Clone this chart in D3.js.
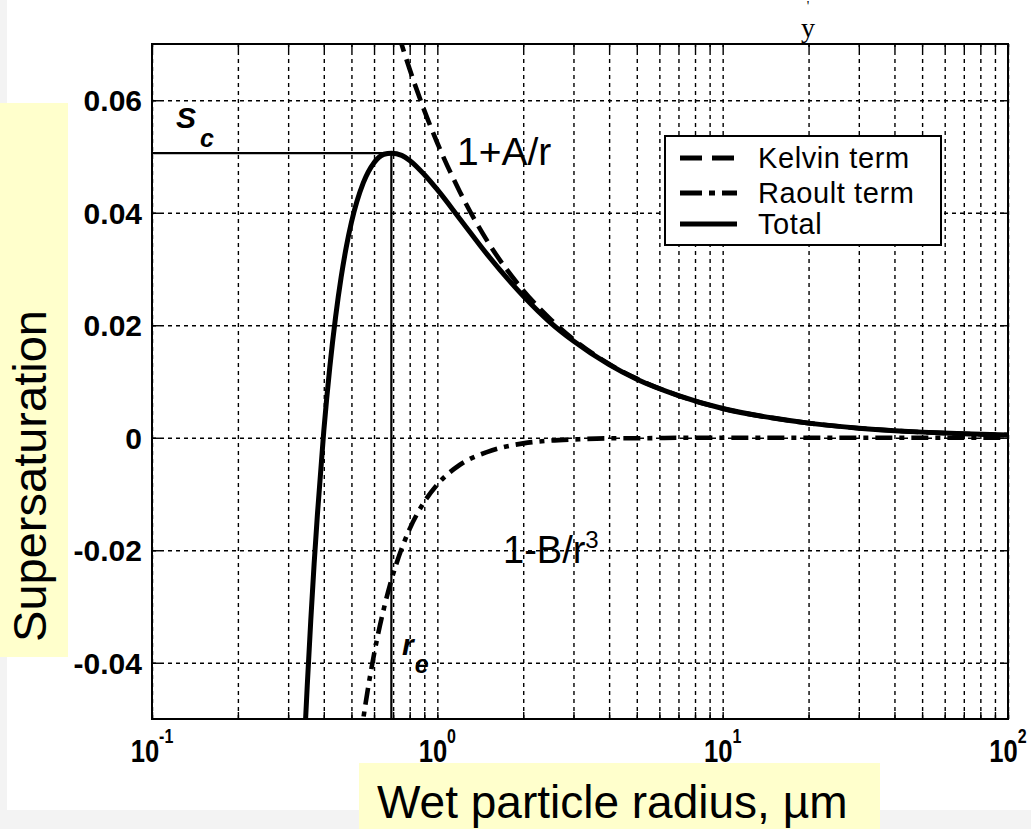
<!DOCTYPE html>
<html><head><meta charset="utf-8">
<script src="https://cdn.jsdelivr.net/npm/d3@7"></script>
<style>html,body{margin:0;padding:0;background:#fff;overflow:hidden;} svg{display:block;}</style>
</head><body>
<script>
// ---- data ----
const radius = [0.345,0.35,0.36,0.37,0.38,0.4,0.42,0.44,0.46,0.48,0.5,0.55,0.6,0.65,0.69,0.75,0.8,0.9,1.0,1.2,1.5,2,2.5,3,4,5,7,10,15,20,30,50,70,100];
const total  = [-0.0505,-0.0441,-0.0326,-0.0224,-0.0136,0.0012,0.0126,0.0215,0.0285,0.0340,0.0383,0.0453,0.0489,0.0504,0.0506,0.0502,0.0493,0.0468,0.0441,0.0389,0.0325,0.0252,0.0204,0.0172,0.0130,0.0104,0.0075,0.0052,0.0035,0.0026,0.0017,0.0010,0.0007,0.0005];
const kelvin = [null,null,null,null,null,null,null,null,null,null,null,null,null,0.0806,0.0759,0.0699,0.0655,0.0582,0.0524,0.0437,0.0349,0.0262,0.0210,0.0175,0.0131,0.0105,0.0075,0.0052,0.0035,0.0026,0.0017,0.0010,0.0007,0.0005];
const raoult = [null,null,null,null,null,null,null,null,null,null,-0.0665,-0.0500,-0.0385,-0.0303,-0.0253,-0.0197,-0.0162,-0.0114,-0.0083,-0.0048,-0.0025,-0.0010,-0.0005,-0.0003,-0.0001,-0.0001,0,0,0,0,0,0,0,0];
const criticalRadius = 0.69;
const criticalSupersaturation = 0.0506;
const yTicks = [-0.04,-0.02,0,0.02,0.04,0.06];
const yTickLabels = ["-0.04","-0.02","0","0.02","0.04","0.06"];
const xDecades = [0.1,1,10,100];
const xTickExponents = ["-1","0","1","2"];
const legendLabels = ["Kelvin term","Raoult term","Total"];
const yAxisTitle = "Supersaturation";
const xAxisTitle = "Wet particle radius, \u00b5m";

// ---- layout ----
const W = 1031, H = 829;
const L = 152, R = 1008, T = 44, B = 719;
const svg = d3.select("body").append("svg").attr("width", W).attr("height", H)
  .style("font-family", "'Liberation Sans', Arial, sans-serif");

// background strips
svg.append("rect").attr("x",0).attr("y",0).attr("width",W).attr("height",H).attr("fill","#fff");
svg.append("rect").attr("x",0).attr("y",0).attr("width",7).attr("height",H).attr("fill","#f3f3f3");
svg.append("rect").attr("x",0).attr("y",810).attr("width",W).attr("height",H-810).attr("fill","#f3f3f3");

const x = d3.scaleLog().domain([0.1, 100]).range([L, R]);
const y = d3.scaleLinear().domain([-0.05, 0.07]).range([B, T]);

const minor = [];
[0.1, 1, 10].forEach(d => { for (let k = 1; k <= 9; k++) minor.push(+(d*k).toPrecision(3)); });
minor.push(100);

// grid
const gx = svg.append("g").attr("transform", `translate(0,${B})`)
  .call(d3.axisBottom(x).tickValues(minor).tickSize(-(B-T)).tickFormat(""));
gx.select(".domain").remove();
gx.selectAll("line").attr("stroke","#000").attr("stroke-width",1.4).attr("stroke-dasharray","4,4");
const gy = svg.append("g").attr("transform", `translate(${L},0)`)
  .call(d3.axisLeft(y).tickValues(yTicks).tickSize(-(R-L)).tickFormat(""));
gy.select(".domain").remove();
gy.selectAll("line").attr("stroke","#000").attr("stroke-width",1.4).attr("stroke-dasharray","4,4");

// curves
svg.append("clipPath").attr("id","plotclip").append("rect")
  .attr("x",L).attr("y",T).attr("width",R-L).attr("height",B-T);
const plot = svg.append("g").attr("clip-path","url(#plotclip)");
const mk = vals => radius.map((r,i) => [r, vals[i]]);
const line = d3.line().defined(d => d[1] !== null).x(d => x(d[0])).y(d => y(d[1])).curve(d3.curveMonotoneX);

plot.append("path").datum(mk(raoult)).attr("d", line).attr("fill","none")
  .attr("stroke","#000").attr("stroke-width",4.6).attr("stroke-dasharray","17,7,5,7");
plot.append("path").datum(mk(kelvin)).attr("d", line).attr("fill","none")
  .attr("stroke","#000").attr("stroke-width",4.6).attr("stroke-dasharray","18,8");
plot.append("path").datum(mk(total)).attr("d", line).attr("fill","none")
  .attr("stroke","#000").attr("stroke-width",5);

// Sc and rc lines
plot.append("line").attr("x1",L).attr("x2",x(criticalRadius))
  .attr("y1",y(criticalSupersaturation)).attr("y2",y(criticalSupersaturation))
  .attr("stroke","#000").attr("stroke-width",2.2);
plot.append("line").attr("x1",x(criticalRadius)).attr("x2",x(criticalRadius))
  .attr("y1",y(criticalSupersaturation)).attr("y2",B)
  .attr("stroke","#000").attr("stroke-width",2.2);

// ticks (inside)
const styleTicks = g => { g.select(".domain").remove(); g.selectAll("line").attr("stroke","#000").attr("stroke-width",1.4); g.selectAll("text").remove(); };
svg.append("g").attr("transform",`translate(0,${B})`).call(d3.axisBottom(x).tickValues(minor).tickSize(-7)).call(styleTicks);
svg.append("g").attr("transform",`translate(0,${T})`).call(d3.axisTop(x).tickValues(minor).tickSize(-7)).call(styleTicks);
svg.append("g").attr("transform",`translate(${L},0)`).call(d3.axisLeft(y).tickValues(yTicks).tickSize(-8)).call(styleTicks);
svg.append("g").attr("transform",`translate(${R},0)`).call(d3.axisRight(y).tickValues(yTicks).tickSize(-8)).call(styleTicks);

// frame
svg.append("rect").attr("x",L).attr("y",T).attr("width",R-L).attr("height",B-T)
  .attr("fill","none").attr("stroke","#000").attr("stroke-width",2);

// y tick labels
svg.append("g").selectAll("text").data(yTicks).join("text")
  .attr("x", L-10).attr("y", d => y(d)+11).attr("text-anchor","end")
  .attr("font-size",30).attr("font-weight","bold")
  .text((d,i) => yTickLabels[i]);

// x tick labels 10^n
const xl = svg.append("g").selectAll("g").data(xDecades).join("g")
  .attr("transform", d => `translate(${x(d)},762) scale(0.8,1)`);
const xt = xl.append("text").attr("text-anchor","middle").attr("font-weight","bold").attr("font-size",32);
xt.append("tspan").text("10");
xt.append("tspan").attr("font-size",20).attr("dy",-19).text((d,i) => xTickExponents[i]);

// legend
const lg = svg.append("g");
lg.append("rect").attr("x",665).attr("y",136).attr("width",276).attr("height",109)
  .attr("fill","#fff").attr("stroke","#000").attr("stroke-width",2);
const legRows = [158,193,224];
const legDash = ["22,10","22,7,6,7",null];
legendLabels.forEach((lab,i) => {
  const ln = lg.append("line").attr("x1",680).attr("x2",737).attr("y1",legRows[i]).attr("y2",legRows[i])
    .attr("stroke","#000").attr("stroke-width",5);
  if (legDash[i]) ln.attr("stroke-dasharray",legDash[i]);
  lg.append("text").attr("x",758).attr("y",legRows[i]+10).attr("font-size",29)
    .attr("letter-spacing",0.6).text(lab);
});

// annotations
const sc = svg.append("text").attr("x",176).attr("y",128).attr("font-weight","bold").attr("font-style","italic").attr("font-size",30);
sc.append("tspan").text("S");
sc.append("tspan").attr("font-size",25).attr("dx",4).attr("dy",19).text("c");
const re = svg.append("text").attr("x",402).attr("y",655).attr("font-weight","bold").attr("font-style","italic").attr("font-size",30);
re.append("tspan").text("r");
re.append("tspan").attr("font-size",25).attr("dx",1).attr("dy",18).text("e");
svg.append("text").attr("x",457).attr("y",165).attr("font-size",39).text("1+A/r");
const rb = svg.append("text").attr("x",503).attr("y",563).attr("font-size",38);
rb.append("tspan").text("1-B/r");
rb.append("tspan").attr("font-size",24).attr("dy",-15).text("3");

// the stray marks at the top
svg.append("text").attr("x",808).attr("y",11).attr("text-anchor","middle")
  .attr("font-family","'Liberation Serif', serif").attr("font-size",14).text("'");
svg.append("text").attr("x",808).attr("y",37).attr("text-anchor","middle")
  .attr("font-family","'Liberation Serif', serif").attr("font-size",28).text("y");

// axis titles on yellow boxes
svg.append("rect").attr("x",0).attr("y",103).attr("width",68).attr("height",554).attr("fill","#ffffcc");
svg.append("text").attr("transform","translate(46,476) rotate(-90)").attr("text-anchor","middle")
  .attr("font-size",47).text(yAxisTitle);
svg.append("rect").attr("x",359).attr("y",763).attr("width",521).attr("height",H-763).attr("fill","#ffffcc");
svg.append("text").attr("x",377).attr("y",818).attr("font-size",46).text(xAxisTitle);
</script>
</body></html>
